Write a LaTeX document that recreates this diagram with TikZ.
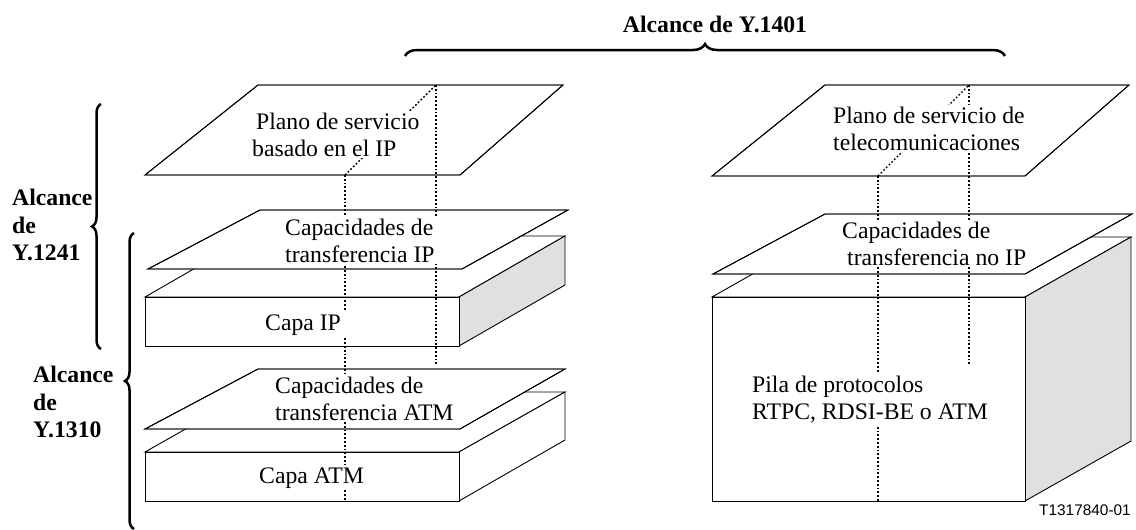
\documentclass[tikz,border=0pt]{standalone}
\usepackage{fontspec}
\setmainfont{Liberation Serif}
\newfontfamily\figsans{Liberation Sans}
\usetikzlibrary{decorations.pathreplacing}
\definecolor{sidegray}{RGB}{224,224,224}
\tikzset{
 edge/.style={line width=0.9pt, line join=miter},
 lightface/.style={edge, fill=white},
 darkface/.style={edge, fill=sidegray},
 outline/.style={edge},
 hiddenline/.style={line width=1.4pt, dash pattern=on 1.8pt off 2pt},
 lbl/.style={fill=white, inner xsep=6pt, inner ysep=2pt, font=\fontsize{23.7}{27}\selectfont, align=left},
 scopelbl/.style={inner sep=0pt, font=\fontsize{23.7}{27.5}\selectfont\bfseries, align=left},
 bracepath/.style={line width=2.5pt, decorate, decoration={brace, amplitude=#1}},
}
\begin{document}
\begin{tikzpicture}[x=1pt,y=-1pt]
\useasboundingbox (0,0) rectangle (1136,530);

% ---------- left column ----------
% service plane
\coordinate (sp1) at (145,175); \coordinate (sp2) at (460,175);
\coordinate (sp3) at (563,85);  \coordinate (sp4) at (258,85);
\draw[lightface] (sp1) -- (sp2) -- (sp3) -- (sp4) -- cycle;

% Capa IP box
\draw[lightface] (145,297) -- (459,297) -- (565,236) -- (251,236) -- cycle;
\draw[darkface] (459,297) -- (565,236) -- (565,285) -- (459,346) -- cycle;
\draw[lightface] (145,297) rectangle (459,346);
% IP transfer plane
\coordinate (ip1) at (148,269); \coordinate (ip2) at (462,269);
\coordinate (ip3) at (568,210); \coordinate (ip4) at (260,210);
\draw[lightface] (ip1) -- (ip2) -- (ip3) -- (ip4) -- cycle;

% Capa ATM box
\draw[lightface] (145,452) -- (459,452) -- (565,392) -- (251,392) -- cycle;
\draw[lightface] (459,452) -- (565,392) -- (565,440) -- (459,501) -- cycle;
\draw[lightface] (145,452) rectangle (459,501);
% ATM transfer plane
\coordinate (at1) at (145,429); \coordinate (at2) at (460,429);
\coordinate (at3) at (565,369); \coordinate (at4) at (258,369);
\draw[lightface] (at1) -- (at2) -- (at3) -- (at4) -- cycle;

% ---------- right column ----------
\coordinate (ts1) at (712,176); \coordinate (ts2) at (1025,176);
\coordinate (ts3) at (1129,85); \coordinate (ts4) at (825,85);
\draw[lightface] (ts1) -- (ts2) -- (ts3) -- (ts4) -- cycle;

% protocol stack box
\draw[lightface] (712,297) -- (1025,297) -- (1131,237) -- (818,237) -- cycle;
\draw[darkface] (1025,297) -- (1131,237) -- (1131,441) -- (1025,501) -- cycle;
\draw[lightface] (712,297) rectangle (1025,501);
% non-IP transfer plane
\coordinate (ni1) at (713,274); \coordinate (ni2) at (1025,274);
\coordinate (ni3) at (1132,214); \coordinate (ni4) at (825,214);
\draw[lightface] (ni1) -- (ni2) -- (ni3) -- (ni4) -- cycle;

% ---------- dotted lines ----------
\coordinate (la) at (436,85);  \coordinate (lb) at (436,365);
\coordinate (lc) at (345,175); \coordinate (ld) at (345,501);
\coordinate (ra) at (969,85);  \coordinate (rb) at (969,366);
\coordinate (rc) at (878,176); \coordinate (rd) at (878,501);
\draw[hiddenline] (la) -- (lb);
\draw[hiddenline] (lc) -- (ld);
\draw[hiddenline] (lc) -- (la);
\draw[hiddenline] (ra) -- (rb);
\draw[hiddenline] (rc) -- (rd);
\draw[hiddenline] (rc) -- (ra);

% ---------- texts ----------
\node[lbl, anchor=north west] (t1) at (246,110.5) {\hspace*{4pt}Plano de servicio\\basado en el IP};
\node[lbl, anchor=north west] (t2) at (279,216.5) {Capacidades de\\transferencia IP};
\node[lbl, anchor=base west] (t3) at (259,330) {Capa IP};
\node[lbl, anchor=north west] (t4) at (269,374.5) {Capacidades de\\transferencia ATM};
\node[lbl, anchor=base west] (t5) at (253,483) {Capa ATM};
\node[lbl, anchor=north west] (t6) at (827,104.5) {Plano de servicio de\\telecomunicaciones};
\node[lbl, anchor=north west] (t7) at (836,219.5) {Capacidades de\\\hspace*{5pt}transferencia no IP};
\node[lbl, anchor=north west] (t8) at (746,373.5) {Pila de protocolos\\RTPC, RDSI-BE o ATM};

% restore plane outlines over the text backgrounds
\draw[outline] (sp1) -- (sp2) -- (sp3) -- (sp4) -- cycle;
\draw[outline] (ip1) -- (ip2) -- (ip3) -- (ip4) -- cycle;
\draw[outline] (at1) -- (at2) -- (at3) -- (at4) -- cycle;
\draw[outline] (ts1) -- (ts2) -- (ts3) -- (ts4) -- cycle;
\draw[outline] (ni1) -- (ni2) -- (ni3) -- (ni4) -- cycle;

% ---------- scope braces ----------
\coordinate (b1s) at (405,56);  \coordinate (b1e) at (1005,56);
\coordinate (b2s) at (101,349); \coordinate (b2e) at (101,104);
\coordinate (b3s) at (134,529); \coordinate (b3e) at (134,233);
\draw[bracepath=12pt] (b1s) -- (b1e);
\draw[bracepath=9pt] (b2s) -- (b2e);
\draw[bracepath=9pt] (b3s) -- (b3e);

\node[scopelbl, anchor=base] (s1) at (715,32) {Alcance de Y.1401};
\node[scopelbl, anchor=north west] (s2) at (12,189) {Alcance\\de\\Y.1241};
\node[scopelbl, anchor=north west] (s3) at (33,366) {Alcance\\de\\Y.1310};

\node[inner sep=0pt, anchor=base west, font=\figsans\fontsize{15.4}{17}\selectfont] (code) at (1039,515) {T1317840-01};
\end{tikzpicture}
\end{document}
